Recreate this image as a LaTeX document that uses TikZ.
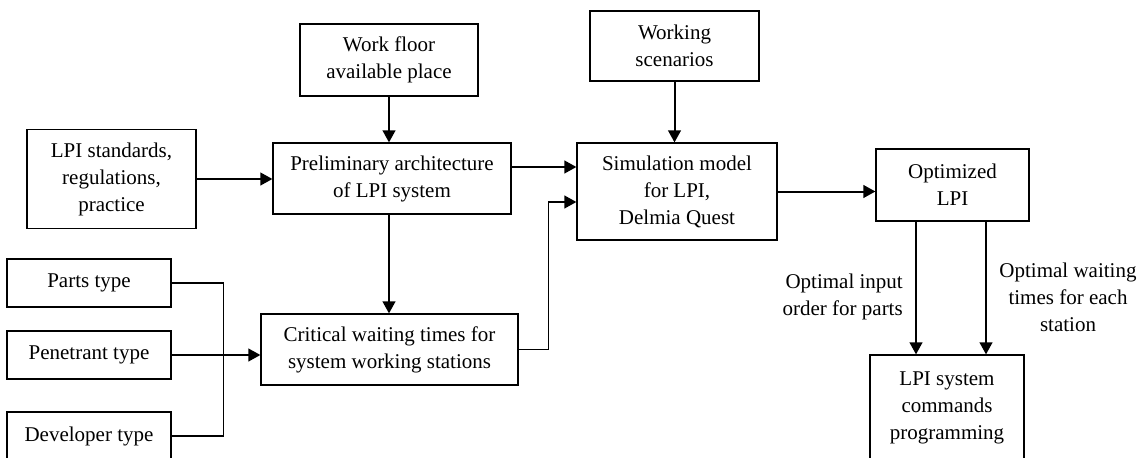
\documentclass[tikz,border=0pt]{standalone}
\usepackage{fontspec}
\setmainfont{Liberation Serif}
\usetikzlibrary{arrows.meta,calc}

\tikzset{
  box/.style={draw, line width=0.9pt, inner sep=0pt, align=center,
              font=\fontsize{15.75pt}{20.25pt}\selectfont},
  lbl/.style={inner sep=0pt, font=\fontsize{15.75pt}{20.25pt}\selectfont},
  tip/.style={-{Triangle[length=9pt,width=9.5pt]}},
  arr/.style={line width=1.5pt, tip},
  mergeline/.style={line width=0.8pt}
}

\begin{document}
\begin{tikzpicture}[x=0.75pt,y=-0.75pt]
  \useasboundingbox (0,0) rectangle (1141,457);
  \clip (0,0) rectangle (1141,457);

  % input boxes
  \node[box, minimum width=126.75pt, minimum height=74.25pt] (lpi) at (111.5,179)
    {LPI standards,\\regulations,\\practice};
  \node[box, minimum width=133.5pt, minimum height=54pt] (floor) at (389,60)
    {Work floor\\available place};
  \node[box, minimum width=126.75pt, minimum height=52.5pt] (scen) at (674.5,46)
    {Working\\scenarios};
  \node[box, minimum width=123pt, minimum height=36pt] (parts) at (89,283) {Parts type};
  \node[box, minimum width=123pt, minimum height=36pt] (pen) at (89,355) {Penetrant type};
  \node[box, minimum width=123pt, minimum height=36pt] (dev) at (89,436) {Developer type};

  % processing boxes
  \node[box, minimum width=178.5pt, minimum height=53.25pt] (prelim) at (392,178.5)
    {Preliminary architecture\\of LPI system};
  \node[box, minimum width=192.75pt, minimum height=53.25pt] (crit) at (389.5,349.5)
    {Critical waiting times for\\system working stations};
  \node[box, minimum width=150pt, minimum height=72.75pt] (sim) at (677,191.5)
    {Simulation model\\for LPI,\\Delmia Quest};
  \node[box, minimum width=114.75pt, minimum height=54pt] (opt) at (952.5,185)
    {Optimized\\LPI};
  \node[box, minimum width=115.5pt, minimum height=79.5pt] (cmd) at (947,408)
    {LPI system\\commands\\programming};

  % edge labels
  \node[lbl, align=right, anchor=east] (lin) at (903,296.5)
    {Optimal input\\order for parts};
  \node[lbl, align=center] (lwait) at (1068,297)
    {Optimal waiting\\times for each\\station};

  % connectors
  \draw[arr] (lpi.east) -- (lpi.east -| prelim.west);
  \draw[arr] (floor.south) -- (floor.south |- prelim.north);
  \draw[arr] (scen.south) -- (scen.south |- sim.north);
  \coordinate (pd) at (prelim.south -| floor.south);
  \draw[arr] (pd) -- (pd |- crit.north);

  \coordinate (pa) at ($(prelim.east)+(0,-11.5)$);
  \draw[arr] (pa) -- (pa -| sim.west);

  \coordinate (sb) at ($(sim.west)+(0,10.5)$);
  \coordinate (cb) at ($(crit.east)+(30,0)$);
  \draw[line width=1pt] (crit.east) -- (cb);
  \draw[line width=1pt] (cb) |- ($(sb)+(-6,0)$);
  \draw[arr] ($(sb)+(-8,0)$) -- (sb);

  \draw[arr] (sim.east) -- (sim.east -| opt.west);

  \coordinate (oa) at ($(opt.south)+(-36.5,0)$);
  \coordinate (ob) at ($(opt.south)+(33.5,0)$);
  \draw[arr] (oa) -- (oa |- cmd.north);
  \draw[arr] (ob) -- (ob |- cmd.north);

  % merging of the three type inputs
  \coordinate (jn) at ($(pen.east)+(52,0)$);
  \draw[mergeline] (parts.east) -| (jn) |- (dev.east);
  \draw[arr] (pen.east) -- (pen.east -| crit.west);
\end{tikzpicture}
\end{document}
